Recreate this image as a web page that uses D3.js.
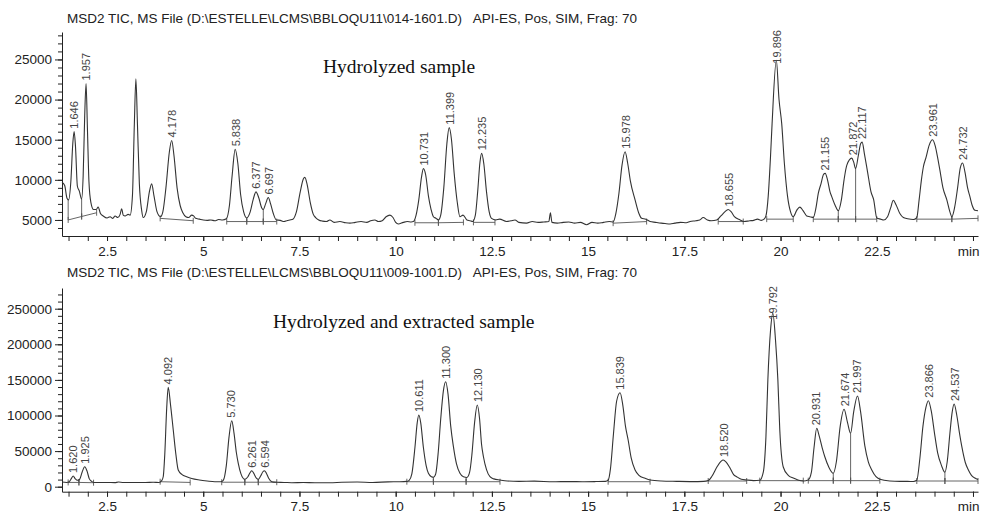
<!DOCTYPE html>
<html>
<head>
<meta charset="utf-8">
<script src="https://cdn.jsdelivr.net/npm/d3@7/dist/d3.min.js"></script>
<style>
  html, body { margin: 0; padding: 0; background: #fff; }
  svg { display: block; }
  text { font-family: "Liberation Sans", Arial, sans-serif; }
</style>
</head>
<body>
<svg id="chart" width="981" height="515"></svg>
<script>
// titles
var topTitle = 'MSD2 TIC, MS File (D:\\ESTELLE\\LCMS\\BBLOQU11\\014-1601.D)';
var bottomTitle = 'MSD2 TIC, MS File (D:\\ESTELLE\\LCMS\\BBLOQU11\\009-1001.D)';
var titleTail = 'API-ES, Pos, SIM, Frag: 70';
var topSample = 'Hydrolyzed sample';
var bottomSample = 'Hydrolyzed and extracted sample';

// axis ticks
var xMajor = [2.5, 5, 7.5, 10, 12.5, 15, 17.5, 20, 22.5, 25];
var xMajorLabels = ['2.5', '5', '7.5', '10', '12.5', '15', '17.5', '20', '22.5', 'min'];
var topYMajor = [5000, 10000, 15000, 20000, 25000];
var bottomYMajor = [0, 50000, 100000, 150000, 200000, 250000];

// trace: [retention time (min), abundance]
var topTrace = [
  [1.33,9700],[1.40,9300],[1.46,7700],[1.50,7500],[1.56,9800],[1.61,14500],[1.645,16000],[1.68,14200],
  [1.73,9200],[1.78,8600],[1.84,7600],[1.88,10500],[1.92,18000],[1.955,22000],[1.99,16500],[2.03,9800],
  [2.08,7200],[2.15,6300],[2.22,6300],[2.27,6600],[2.33,5800],[2.40,5500],[2.50,5250],[2.58,5400],
  [2.65,5200],[2.71,5500],[2.78,5300],[2.84,5700],[2.88,6400],[2.92,5600],[2.97,5500],[3.05,5700],
  [3.10,5600],[3.16,8000],[3.21,17000],[3.25,22600],[3.29,17000],[3.34,9500],[3.40,6200],[3.44,5300],
  [3.52,6000],[3.60,8500],[3.66,9500],[3.72,8000],[3.80,6000],[3.89,5400],[3.95,6000],[4.03,9000],
  [4.12,13500],[4.18,14900],[4.24,13000],[4.32,9000],[4.40,6800],[4.47,5900],[4.55,5400],[4.62,5300],
  [4.70,5600],[4.75,5500],[4.80,5200],[4.90,5100],[5.00,5000],[5.10,4950],[5.20,5000],[5.30,4900],
  [5.40,5050],[5.50,5000],[5.60,5150],[5.68,6800],[5.75,10500],[5.83,13800],[5.90,12000],[5.97,8200],
  [6.05,6000],[6.13,5250],[6.22,6000],[6.30,7600],[6.37,8500],[6.44,7800],[6.52,6500],[6.56,6300],
  [6.62,7000],[6.69,7800],[6.75,7000],[6.82,5800],[6.90,5000],[7.00,4950],[7.10,4800],[7.17,4900],
  [7.25,5000],[7.33,5100],[7.42,6000],[7.52,8500],[7.60,10100],[7.64,10300],[7.70,9400],[7.78,7200],
  [7.86,5700],[7.92,5300],[8.00,5000],[8.10,4850],[8.20,4800],[8.29,5000],[8.40,4700],[8.55,4800],
  [8.70,4650],[8.81,4600],[8.95,4700],[9.10,4800],[9.25,4700],[9.35,4900],[9.46,5000],[9.55,4800],
  [9.65,4900],[9.75,5400],[9.85,5600],[9.93,5300],[10.00,4700],[10.07,4500],[10.20,4700],[10.30,4800],
  [10.40,4750],[10.46,4800],[10.53,5600],[10.60,7500],[10.67,10300],[10.72,11400],[10.78,10600],[10.85,8000],
  [10.92,6300],[10.98,5400],[11.05,5200],[11.11,5000],[11.17,5600],[11.25,9000],[11.33,14500],[11.39,16500],
  [11.45,15000],[11.52,10800],[11.60,7200],[11.67,5400],[11.75,5600],[11.85,5000],[11.93,4900],[12.00,4800],
  [12.07,5600],[12.13,8500],[12.19,12200],[12.235,13300],[12.29,12000],[12.36,8500],[12.43,6000],[12.49,5200],
  [12.60,5000],[12.70,5100],[12.88,4800],[13.00,4900],[13.10,5000],[13.20,4700],[13.40,4600],[13.55,4800],
  [13.70,4700],[13.85,4750],[13.98,4800],[14.02,5900],[14.06,4700],[14.20,4600],[14.35,4700],[14.50,4750],
  [14.65,4600],[14.80,4700],[14.96,4400],[15.10,4700],[15.25,4600],[15.40,4700],[15.55,4800],[15.65,4750],
  [15.72,5800],[15.80,8300],[15.88,11800],[15.96,13500],[16.03,12000],[16.10,9800],[16.22,7500],[16.32,5800],
  [16.39,5200],[16.50,5100],[16.61,4800],[16.75,4700],[16.90,4600],[17.00,4550],[17.13,4500],[17.25,4600],
  [17.40,4700],[17.55,4650],[17.65,4800],[17.80,4900],[17.90,5000],[17.99,5300],[18.10,5000],[18.20,4900],
  [18.34,5000],[18.45,5500],[18.55,6000],[18.64,6300],[18.72,6000],[18.80,5400],[18.95,5000],[19.05,4800],
  [19.20,4900],[19.30,4950],[19.40,5100],[19.50,4950],[19.57,5100],[19.62,5500],[19.68,8000],[19.74,13000],
  [19.78,17000],[19.89,24900],[19.96,20000],[20.03,17000],[20.10,12000],[20.18,8000],[20.26,6000],[20.33,5400],
  [20.42,6200],[20.50,6600],[20.58,6200],[20.68,5500],[20.76,5400],[20.85,5300],[20.92,6500],[20.98,8300],
  [21.05,9500],[21.12,10700],[21.16,10800],[21.22,10000],[21.28,8600],[21.33,7900],[21.42,6800],[21.50,6150],
  [21.58,7500],[21.65,10000],[21.72,11800],[21.85,12700],[21.90,12200],[21.95,11400],[22.02,13000],[22.08,14500],
  [22.12,14700],[22.18,13200],[22.26,11000],[22.35,8500],[22.42,7500],[22.50,5250],[22.60,5100],[22.68,5000],
  [22.78,5400],[22.86,6500],[22.93,7450],[23.00,6900],[23.10,5800],[23.19,5300],[23.30,5150],[23.45,5050],
  [23.54,5300],[23.60,7500],[23.66,10000],[23.71,11600],[23.78,12800],[23.86,14300],[23.95,15000],[24.02,14200],
  [24.08,12800],[24.14,11200],[24.22,9000],[24.32,7500],[24.40,6000],[24.45,5400],[24.52,6500],[24.60,9000],
  [24.67,11500],[24.73,12100],[24.79,11000],[24.86,9000],[24.92,7900],[24.98,6800],[25.05,6200],[25.13,6150]
];

var bottomTrace = [
  [1.33,6500],[1.45,6000],[1.52,7000],[1.58,12000],[1.62,15000],[1.67,11500],[1.73,9000],[1.79,10500],
  [1.85,20000],[1.92,28000],[1.98,22000],[2.04,11000],[2.10,7500],[2.16,6000],[2.30,5800],[2.50,6000],
  [2.70,5700],[2.80,6500],[2.90,6000],[3.10,5800],[3.30,6000],[3.50,5900],[3.70,6200],[3.85,6000],
  [3.92,8500],[3.96,14000],[4.00,45000],[4.05,110000],[4.09,139500],[4.15,115000],[4.22,80000],[4.29,45000],
  [4.35,23500],[4.45,17000],[4.57,14000],[4.70,11500],[4.90,9400],[5.10,8000],[5.30,7000],[5.45,7000],
  [5.52,9000],[5.60,30000],[5.67,70000],[5.74,92700],[5.80,75000],[5.86,48000],[5.91,32900],[5.98,18000],
  [6.08,10400],[6.16,14000],[6.22,20000],[6.26,22500],[6.31,19000],[6.38,12000],[6.43,10400],[6.49,15000],
  [6.55,21000],[6.59,22500],[6.64,19000],[6.70,12000],[6.78,7000],[6.90,6200],[7.10,6000],[7.30,5600],
  [7.60,5800],[7.90,5600],[8.29,5600],[8.60,6200],[9.00,6500],[9.40,6000],[9.80,6800],[10.10,7000],
  [10.29,7500],[10.35,9000],[10.42,18000],[10.50,55000],[10.56,90000],[10.60,100700],[10.65,90000],[10.72,55000],
  [10.79,30000],[10.85,18800],[10.93,14000],[10.98,13200],[11.04,18000],[11.10,45000],[11.17,95000],[11.24,135000],
  [11.30,147500],[11.36,130000],[11.43,85000],[11.50,56200],[11.58,32000],[11.67,18800],[11.76,14000],[11.85,13000],
  [11.92,20000],[11.98,45000],[12.05,90000],[12.12,114700],[12.18,95000],[12.23,60000],[12.28,42100],[12.36,24000],
  [12.45,14000],[12.55,11000],[12.71,9400],[12.90,8000],[13.20,7500],[13.60,7800],[14.10,7000],[14.50,7200],
  [14.90,7000],[15.20,7200],[15.45,7500],[15.52,9000],[15.58,25000],[15.66,75000],[15.74,120000],[15.83,132000],
  [15.90,115000],[15.97,85000],[16.04,65600],[16.12,40000],[16.22,23500],[16.32,16000],[16.48,11800],[16.61,9400],
  [16.90,8000],[17.30,7500],[17.70,7200],[18.00,7500],[18.12,8500],[18.22,15000],[18.35,28000],[18.45,35500],
  [18.51,37500],[18.58,35000],[18.68,27000],[18.78,17000],[18.86,14000],[18.98,10500],[19.12,9400],[19.30,8500],
  [19.46,9000],[19.55,20000],[19.62,70000],[19.67,150000],[19.74,220000],[19.80,243500],[19.87,205000],[19.93,150000],
  [19.98,79600],[20.07,27700],[20.20,16000],[20.33,12100],[20.45,9500],[20.59,8100],[20.72,9500],[20.80,20000],
  [20.87,55000],[20.94,82000],[21.00,72000],[21.08,55000],[21.15,42100],[21.25,28000],[21.37,18900],[21.45,35000],
  [21.55,85000],[21.65,108700],[21.74,90000],[21.82,75000],[21.90,105000],[22.00,127400],[22.08,105000],[22.19,57300],
  [22.28,35000],[22.37,23500],[22.48,14000],[22.58,10600],[22.84,8100],[23.10,7500],[23.30,7500],[23.45,7300],
  [23.54,9000],[23.62,40000],[23.70,85000],[23.78,112000],[23.84,120800],[23.92,105000],[24.00,75000],[24.08,48000],
  [24.18,30000],[24.27,20400],[24.33,35000],[24.40,75000],[24.46,105000],[24.51,116100],[24.58,100000],[24.65,75000],
  [24.71,56200],[24.80,34000],[24.88,23500],[24.96,16000],[25.05,12100],[25.13,10000]
];

// peak annotations (retention times printed over the peaks)
var topPeaks = ['1.646', '1.957', '4.178', '5.838', '6.377', '6.697', '10.731', '11.399', '12.235',
  '15.978', '18.655', '19.896', '21.155', '21.872', '22.117', '23.961', '24.732'];
var bottomPeaks = ['1.620', '1.925', '4.092', '5.730', '6.261', '6.594', '10.611', '11.300', '12.130',
  '15.839', '18.520', '19.792', '20.931', '21.674', '21.997', '23.866', '24.537'];

// integration baselines [t1, v1, t2, v2] and drop lines [t, v1, v2]
var topBaselines = [
  [1.49,5000,1.84,5430],[1.84,5430,2.23,5900],[3.88,5200,4.74,4900],[5.61,4800,6.13,4800],[6.13,4800,6.56,4800],
  [6.56,4800,6.91,4800],[10.50,4650,11.11,4650],[11.11,4650,11.76,4700],[12.02,4700,12.58,4700],[15.65,4600,16.52,4800],
  [18.38,4800,19.03,4800],[19.64,5100,20.33,5100],[20.85,5100,21.50,5100],[21.50,5100,21.95,5100],[21.95,5100,22.50,5100],
  [23.54,5100,24.45,5100],[24.45,5100,25.13,5200]
];
var topDrops = [[1.49,5000,7500],[1.84,5430,7600],[6.13,4800,5250],[6.56,4800,6300],[21.50,5100,6150],[21.95,5100,11400],[24.45,5100,5400]];
var bottomBaselines = [
  [1.49,6000,1.77,6000],[1.77,6000,2.15,5600],[3.88,7000,4.66,6000],[5.48,6300,6.08,6300],[6.08,6300,6.43,6300],
  [6.43,6300,6.91,6300],[10.29,7000,10.98,7000],[10.98,7000,11.83,7000],[11.83,7000,12.71,7000],[15.52,7000,16.61,7000],
  [18.12,8000,19.12,8000],[19.46,8500,20.59,8500],[20.72,8500,21.37,8500],[21.37,8500,21.82,8500],[21.82,8500,22.58,8500],
  [23.54,8000,24.27,8000],[24.27,8000,25.13,8000]
];
var bottomDrops = [[1.77,6000,9000],[6.08,6300,10400],[6.43,6300,10400],[10.98,7000,13200],[11.83,7000,13000],[21.37,8500,18900],[21.82,8500,75000],[24.27,8000,20400]];

var svg = d3.select('#chart');
var x = d3.scaleLinear().domain([1.33, 25.13]).range([62, 978]);
var xMinor = d3.range(1.5, 25.01, 0.5);

var panels = [
  { title: topTitle, sample: topSample, trace: topTrace, peaks: topPeaks, segs: topBaselines, drops: topDrops,
    yMajor: topYMajor, yMinor: d3.range(4000, 28001, 1000), yDomain: [3000, 28420], top: 32, bottom: 236,
    titleY: 23, sampleX: 323, sampleY: 73 },
  { title: bottomTitle, sample: bottomSample, trace: bottomTrace, peaks: bottomPeaks, segs: bottomBaselines, drops: bottomDrops,
    yMajor: bottomYMajor, yMinor: d3.range(0, 280001, 10000), yDomain: [-7020, 279070], top: 288, bottom: 491.7,
    titleY: 277, sampleX: 273, sampleY: 328 }
];

panels.forEach(function (p) {
  var y = d3.scaleLinear().domain(p.yDomain).range([p.bottom, p.top]);
  var g = svg.append('g');

  g.append('text').attr('x', 67).attr('y', p.titleY).attr('font-size', 13.5).attr('fill', '#222').text(p.title);
  g.append('text').attr('x', 637).attr('y', p.titleY).attr('text-anchor', 'end').attr('font-size', 13.5).attr('fill', '#222').text(titleTail);
  g.append('text').attr('x', p.sampleX).attr('y', p.sampleY)
    .style('font-family', '"Liberation Serif", "Times New Roman", serif')
    .attr('font-size', 19.5).attr('fill', '#111').text(p.sample);

  // x axis
  var xg = g.append('g').attr('transform', 'translate(0,' + p.bottom + ')');
  xg.call(d3.axisBottom(x).tickValues(xMinor).tickSize(5).tickSizeOuter(0).tickFormat(''));
  var xl = g.append('g').attr('transform', 'translate(0,' + p.bottom + ')');
  xl.call(d3.axisBottom(x).tickValues(xMajor).tickSize(5).tickSizeOuter(0).tickPadding(5)
    .tickFormat(function (d, i) { return xMajorLabels[i]; }));
  xl.select('.domain').remove();
  // the last label ("min") sits at the right edge: keep it inside the picture
  xl.selectAll('.tick text').filter(function (d) { return d === 25; })
    .attr('text-anchor', 'end').attr('x', 979 - x(25));

  // y axis
  var yg = g.append('g').attr('transform', 'translate(62,0)');
  yg.call(d3.axisLeft(y).tickValues(p.yMinor.filter(function (v) { return v > p.yDomain[0] && v < p.yDomain[1]; }))
    .tickSize(4).tickSizeOuter(0).tickFormat(''));
  var yl = g.append('g').attr('transform', 'translate(62,0)');
  yl.call(d3.axisLeft(y).tickValues(p.yMajor).tickSize(7).tickSizeOuter(0).tickPadding(3).tickFormat(d3.format('d')));
  yl.select('.domain').remove();

  g.selectAll('.tick text').attr('font-size', 13.5).attr('fill', '#222').style('font-family', '"Liberation Sans", Arial, sans-serif');
  g.selectAll('.domain, .tick line').attr('stroke', '#222');

  // integration baselines
  var segG = g.append('g').attr('stroke', '#555').attr('stroke-width', 0.9).attr('fill', 'none');
  segG.selectAll('line.base').data(p.segs).join('line').attr('class', 'base')
    .attr('x1', function (d) { return x(d[0]); }).attr('y1', function (d) { return y(d[1]); })
    .attr('x2', function (d) { return x(d[2]); }).attr('y2', function (d) { return y(d[3]); });
  var ends = [];
  p.segs.forEach(function (d) { ends.push([d[0], d[1]]); ends.push([d[2], d[3]]); });
  segG.selectAll('line.end').data(ends).join('line').attr('class', 'end')
    .attr('x1', function (d) { return x(d[0]); }).attr('x2', function (d) { return x(d[0]); })
    .attr('y1', function (d) { return y(d[1]) - 3; }).attr('y2', function (d) { return y(d[1]) + 3; });
  segG.selectAll('line.drop').data(p.drops).join('line').attr('class', 'drop')
    .attr('x1', function (d) { return x(d[0]); }).attr('x2', function (d) { return x(d[0]); })
    .attr('y1', function (d) { return y(d[1]); }).attr('y2', function (d) { return y(d[2]); });

  // trace
  var line = d3.line().x(function (d) { return x(d[0]); }).y(function (d) { return y(d[1]); }).curve(d3.curveMonotoneX);
  g.append('path').datum(p.trace).attr('d', line).attr('fill', 'none').attr('stroke', '#333').attr('stroke-width', 1.1);

  // peak labels
  p.peaks.forEach(function (txt) {
    var t = parseFloat(txt);
    var near = p.trace.filter(function (d) { return Math.abs(d[0] - t) <= 0.08; });
    var v = d3.max(near, function (d) { return d[1]; });
    var px = x(t), py = y(v) - 3;
    var lab = g.append('text').attr('font-size', 11).attr('fill', '#444').text(txt);
    var len = lab.node().getComputedTextLength();
    if (py - len < p.top - 2) py = p.top - 2 + len;
    lab.attr('transform', 'translate(' + (px + 4) + ',' + py + ') rotate(-90)');
  });
});
</script>
</body>
</html>
